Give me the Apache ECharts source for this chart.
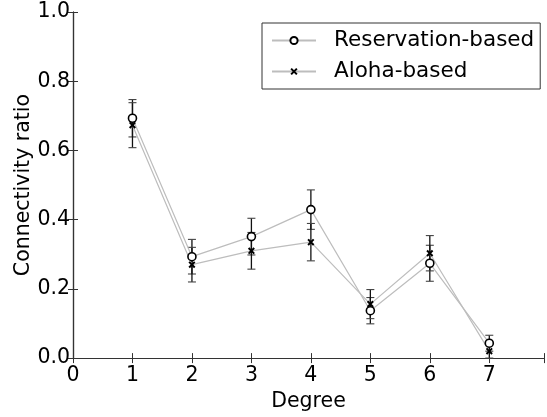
<!DOCTYPE html>
<html>
<head>
<meta charset="utf-8">
<script src="https://cdn.jsdelivr.net/npm/echarts@6/dist/echarts.min.js"></script>
<style>
  html, body { margin: 0; padding: 0; background: #fff; }
  #chart { width: 547px; height: 417px; }
</style>
</head>
<body>
<div id="chart"></div>
<script>
// data
var degrees = [1, 2, 3, 4, 5, 6, 7];
var reservation = [0.693, 0.293, 0.351, 0.429, 0.137, 0.274, 0.043];
var aloha = [0.673, 0.270, 0.310, 0.335, 0.156, 0.303, 0.020];
var reservationErr = [0.054, 0.050, 0.053, 0.057, 0.038, 0.052, 0.023];
var alohaErr = [0.065, 0.050, 0.053, 0.054, 0.042, 0.051, 0.020];
var xTicks = [0, 1, 2, 3, 4, 5, 6, 7];

var font = 'DejaVu Sans';
var crossPath = 'path://M0,2 L2,0 L10,8 L8,10 Z M8,0 L10,2 L2,10 L0,8 Z';

function pairs(ys) {
    var out = [];
    for (var i = 0; i < degrees.length; i++) out.push([degrees[i], ys[i]]);
    return out;
}

function errData(ys, es) {
    var out = [];
    for (var i = 0; i < degrees.length; i++) out.push([degrees[i], ys[i] - es[i], ys[i] + es[i]]);
    return out;
}

//误差棒
function renderErr(params, api) {
    var x = api.value(0);
    var lo = api.coord([x, api.value(1)]);
    var hi = api.coord([x, api.value(2)]);
    var w = 4;
    var st = { stroke: '#111', lineWidth: 1.3 };
    var cap = { stroke: '#444', lineWidth: 1.1 };
    return {
        type: 'group',
        children: [
            { type: 'line', shape: { x1: lo[0], y1: lo[1], x2: hi[0], y2: hi[1] }, style: st },
            { type: 'line', shape: { x1: hi[0] - w, y1: hi[1], x2: hi[0] + w, y2: hi[1] }, style: cap },
            { type: 'line', shape: { x1: lo[0] - w, y1: lo[1], x2: lo[0] + w, y2: lo[1] }, style: cap }
        ]
    };
}

var axisLine = { show: true, lineStyle: { color: '#333', width: 1.2 } };
var axisTick = { show: true, inside: true, length: 5, lineStyle: { color: '#333', width: 1 } };

var myChart = echarts.init(document.getElementById('chart'));

myChart.setOption({
    backgroundColor: '#fff',
    animation: false,
    textStyle: { fontFamily: font },
    grid: { left: 73, top: 12, right: -2, bottom: 53, containLabel: false },
    legend: {
        orient: 'vertical',
        left: 262,
        top: 23,
        data: ['Reservation-based', 'Aloha-based'],
        backgroundColor: '#fff',
        borderColor: '#333',
        borderWidth: 1,
        borderRadius: 0,
        padding: [6, 6, 6, 9],
        itemGap: 8,
        itemWidth: 44,
        itemHeight: 9,
        textStyle: { fontFamily: font, fontSize: 21.5, color: '#000', lineHeight: 23, padding: [0, 0, 0, 13] }
    },
    xAxis: [
        {
            type: 'value', min: 0, max: 7.92, interval: 1,
            name: 'Degree', nameLocation: 'middle', nameGap: 31,
            nameTextStyle: { fontFamily: font, fontSize: 20.5, color: '#000' },
            axisLine: axisLine, axisTick: axisTick, splitLine: { show: false },
            axisLabel: {
                fontFamily: font, fontSize: 20.5, color: '#000', margin: 7,
                formatter: function (v) { return xTicks.indexOf(v) >= 0 ? String(v) : ''; }
            }
        },
        {
            type: 'value', position: 'top', min: 0, max: 7.92, interval: 1,
            axisLine: axisLine, axisTick: axisTick, splitLine: { show: false },
            axisLabel: { show: false }
        }
    ],
    yAxis: [
        {
            type: 'value', min: 0, max: 1, interval: 0.2,
            name: 'Connectivity ratio', nameLocation: 'middle', nameGap: 39,
            nameMoveOverlap: false,
            nameTextStyle: { fontFamily: font, fontSize: 20.5, color: '#000' },
            axisLine: axisLine, axisTick: axisTick, splitLine: { show: false },
            axisLabel: {
                fontFamily: font, fontSize: 20.5, color: '#000', margin: 3,
                formatter: function (v) { return v.toFixed(1); }
            }
        },
        {
            type: 'value', position: 'right', min: 0, max: 1, interval: 0.2,
            axisLine: axisLine, axisTick: axisTick, splitLine: { show: false },
            axisLabel: { show: false }
        }
    ],
    series: [
        {
            name: 'Reservation-err', type: 'custom', renderItem: renderErr,
            data: errData(reservation, reservationErr), encode: { x: 0, y: [1, 2] }, z: 2, silent: true
        },
        {
            name: 'Aloha-err', type: 'custom', renderItem: renderErr,
            data: errData(aloha, alohaErr), encode: { x: 0, y: [1, 2] }, z: 2, silent: true
        },
        {
            name: 'Reservation-based', type: 'line', data: pairs(reservation), z: 3,
            symbol: 'circle', symbolSize: 8, showSymbol: true,
            lineStyle: { color: '#bdbdbd', width: 1.2 },
            itemStyle: { color: '#fff', borderColor: '#000', borderWidth: 1.6 }
        },
        {
            name: 'Aloha-based', type: 'line', data: pairs(aloha), z: 3,
            symbol: crossPath, symbolSize: 7, showSymbol: true,
            lineStyle: { color: '#bdbdbd', width: 1.2 },
            itemStyle: { color: '#000', borderWidth: 0 }
        }
    ]
});
</script>
</body>
</html>
